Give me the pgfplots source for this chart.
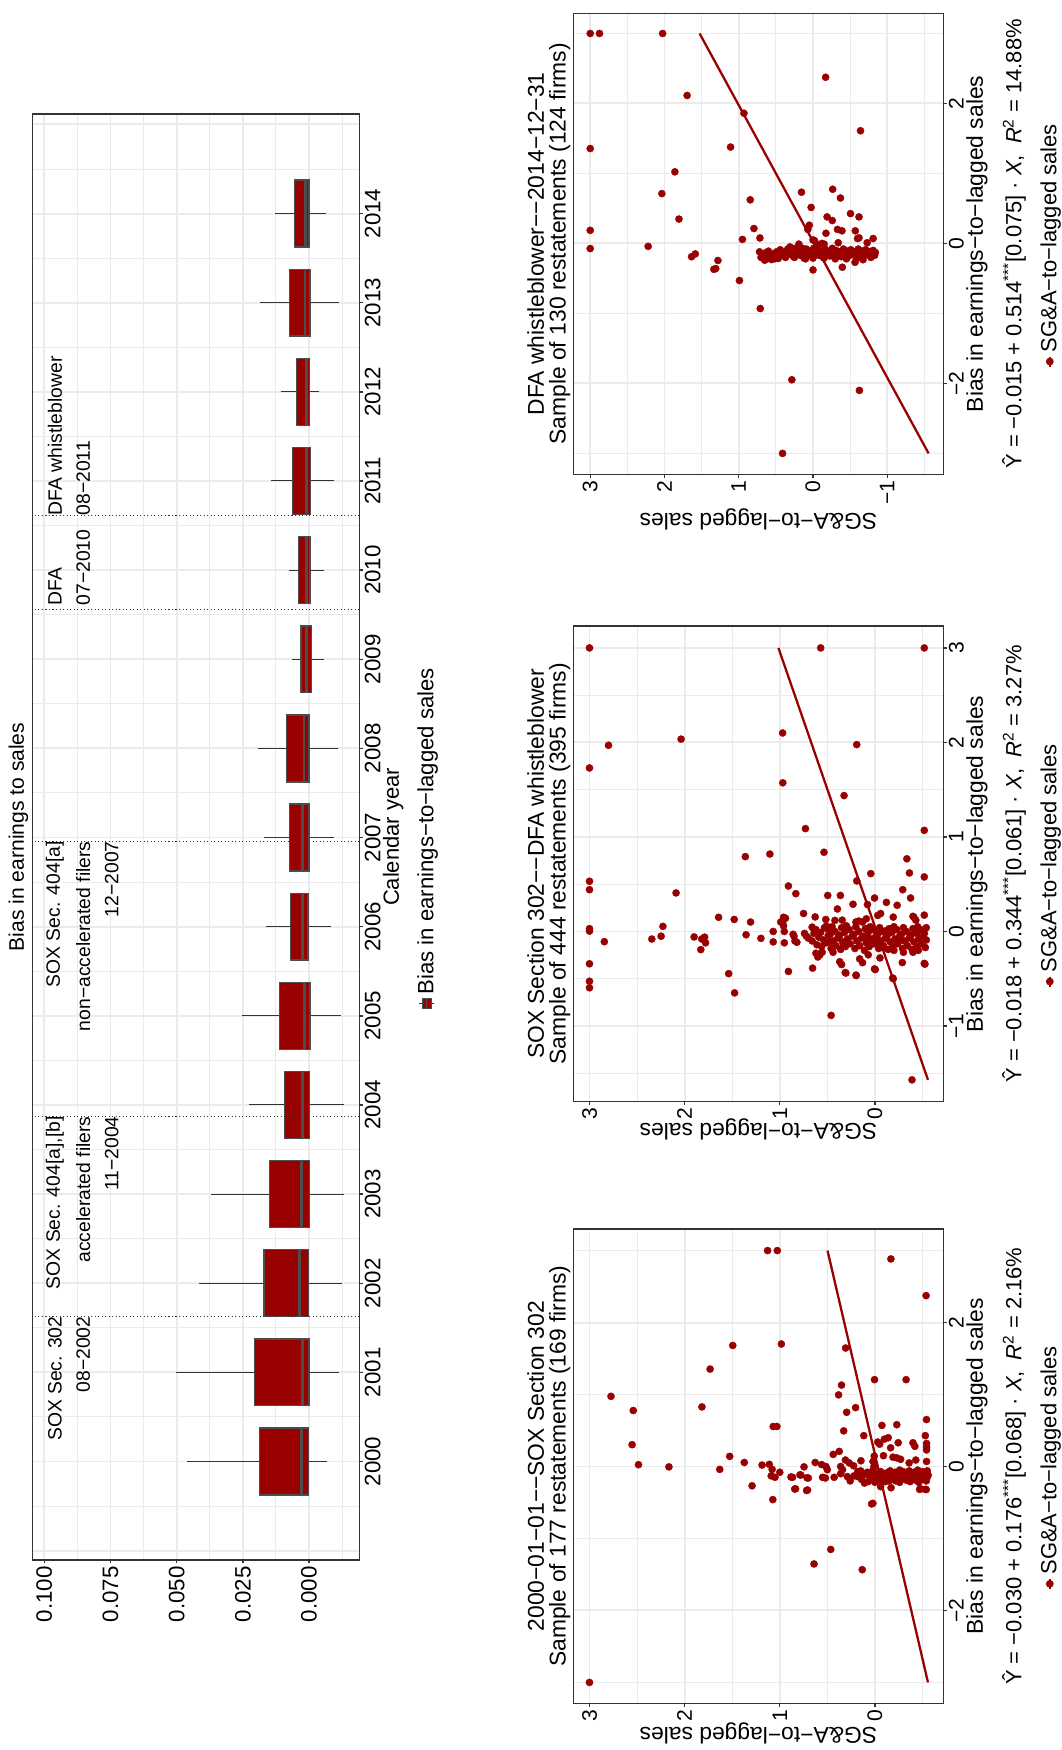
\documentclass[border=0pt]{standalone}
\usepackage{fontspec}
\setmainfont{Liberation Sans}
\usepackage{graphicx}
\usepackage{pgfplots}
\pgfplotsset{compat=1.18}
\definecolor{dred}{HTML}{990000}
\definecolor{bgray}{HTML}{333333}
\definecolor{ggrid}{HTML}{EBEBEB}
\definecolor{boxline}{HTML}{4D4D4D}
\tikzset{
  ttl/.style={font=\fontsize{13}{16}\selectfont},
  axl/.style={font=\fontsize{13}{15}\selectfont},
  eqn/.style={font=\fontsize{12.5}{15}\selectfont},
  ann/.style={font=\fontsize{11}{13}\selectfont, inner sep=0pt},
}
\pgfplotsset{
  ggbase/.style={
    scale only axis, enlargelimits=false, clip mode=individual,
    axis line style={bgray, line width=0.9pt},
    grid=both,
    major grid style={ggrid, line width=1.1pt},
    minor grid style={ggrid, line width=0.55pt},
    tick style={bgray, line width=0.8pt},
    major tick length=0.07cm, minor tick length=0pt,
    tick align=outside,
    xtick pos=bottom, ytick pos=left,
    xticklabel style={inner sep=1pt},
    yticklabel style={inner sep=1.5pt},
  },
  scat/.style={ggbase, height=7.396cm,
    tick label style={font=\fontsize{12}{14}\selectfont, text=black},
    legend style={at={(axis description cs:0.5,-0.288)}, anchor=center, draw=none, fill=none,
      font=\fontsize{12.5}{15}\selectfont, inner sep=0pt},
    legend image code/.code={\draw[dred, line width=0.8pt] (0cm,0cm) -- (0.2cm,0cm); \fill[dred] (0.1cm,0cm) circle (2pt);},
  },
  pts/.style={only marks, mark=*, mark size=2.05pt, mark options={draw=dred, fill=dred, line width=0.2pt}},
  fitl/.style={dred, line width=1.3pt, no markers, forget plot},
  evl/.style={forget plot, bgray, line width=0.6pt, dash pattern=on 0.6pt off 1.4pt},
  bx/.style={forget plot, fill=dred, draw=boxline, line width=0.8pt},
  md/.style={forget plot, boxline, line width=1.6pt},
  wk/.style={forget plot, bgray, line width=0.6pt},
}
\begin{document}
\rotatebox{90}{%
\begin{tikzpicture}
\path[use as bounding box] (0,0) rectangle (35cm,-21.24cm);
% ---------------- Box plot panel (x = calendar year - 2000) ----------------
\begin{axis}[ggbase, at={(3.8cm,-7.186cm)}, anchor=south west, width=28.92cm, height=6.532cm,
  xmin=-1.105, xmax=15.117, ymin=-0.019, ymax=0.10438,
  xtick={0,1,2,3,4,5,6,7,8,9,10,11,12,13,14},
  xticklabels={2000,2001,2002,2003,2004,2005,2006,2007,2008,2009,2010,2011,2012,2013,2014},
  minor xtick={-0.5,0.5,1.5,2.5,3.5,4.5,5.5,6.5,7.5,8.5,9.5,10.5,11.5,12.5,13.5,14.5},
  extra x ticks={-1,15}, extra x tick labels={}, extra x tick style={major tick length=0pt, grid=major},
  ytick={0,0.025,0.05,0.075,0.1}, yticklabels={0.000,0.025,0.050,0.075,0.100},
  minor ytick={-0.0125,0.0125,0.0375,0.0625,0.0875},
  tick label style={font=\fontsize{12.7}{15}\selectfont, text=black},
  legend style={at={(axis description cs:0.5,-0.206)}, anchor=center, draw=none, fill=none,
      font=\fontsize{12.6}{15}\selectfont, inner sep=0pt},
]
\addlegendimage{legend image code/.code={
  \draw[bgray, line width=0.5pt] (0.1cm,-0.15cm) -- (0.1cm,0.15cm);
  \filldraw[fill=dred, draw=boxline, line width=0.6pt] (0cm,-0.09cm) rectangle (0.2cm,0.09cm);
  \draw[boxline, line width=1pt] (0cm,0cm) -- (0.2cm,0cm);}}
\addlegendentry{Bias in earnings−to−lagged sales}
% whiskers: (year, lower whisker) to (year, upper whisker)
\addplot[wk] coordinates {(0,-0.0067) (0,0.0462)};
\addplot[wk] coordinates {(1,-0.0113) (1,0.0503)};
\addplot[wk] coordinates {(2,-0.0123) (2,0.0417)};
\addplot[wk] coordinates {(3,-0.0131) (3,0.0369)};
\addplot[wk] coordinates {(4,-0.0134) (4,0.0226)};
\addplot[wk] coordinates {(5,-0.0119) (5,0.0253)};
\addplot[wk] coordinates {(6,-0.0084) (6,0.0162)};
\addplot[wk] coordinates {(7,-0.0095) (7,0.0170)};
\addplot[wk] coordinates {(8,-0.0108) (8,0.0193)};
\addplot[wk] coordinates {(9,-0.0058) (9,0.0064)};
\addplot[wk] coordinates {(10,-0.0058) (10,0.0077)};
\addplot[wk] coordinates {(11,-0.0095) (11,0.0144)};
\addplot[wk] coordinates {(12,-0.0036) (12,0.0106)};
\addplot[wk] coordinates {(13,-0.0113) (13,0.0185)};
\addplot[wk] coordinates {(14,-0.0065) (14,0.0127)};
% boxes: lower quartile to upper quartile, width 0.75
\addplot[bx] coordinates {(-0.375,0.0001) (0.375,0.0001) (0.375,0.0188) (-0.375,0.0188)} --cycle;
\addplot[bx] coordinates {(0.625,0.0000) (1.375,0.0000) (1.375,0.0206) (0.625,0.0206)} --cycle;
\addplot[bx] coordinates {(1.625,0.0001) (2.375,0.0001) (2.375,0.0170) (1.625,0.0170)} --cycle;
\addplot[bx] coordinates {(2.625,-0.0001) (3.375,-0.0001) (3.375,0.0150) (2.625,0.0150)} --cycle;
\addplot[bx] coordinates {(3.625,-0.0001) (4.375,-0.0001) (4.375,0.0093) (3.625,0.0093)} --cycle;
\addplot[bx] coordinates {(4.625,-0.0003) (5.375,-0.0003) (5.375,0.0111) (4.625,0.0111)} --cycle;
\addplot[bx] coordinates {(5.625,0.0004) (6.375,0.0004) (6.375,0.0070) (5.625,0.0070)} --cycle;
\addplot[bx] coordinates {(6.625,0.0000) (7.375,0.0000) (7.375,0.0074) (6.625,0.0074)} --cycle;
\addplot[bx] coordinates {(7.625,0.0000) (8.375,0.0000) (8.375,0.0085) (7.625,0.0085)} --cycle;
\addplot[bx] coordinates {(8.625,-0.0009) (9.375,-0.0009) (9.375,0.0030) (8.625,0.0030)} --cycle;
\addplot[bx] coordinates {(9.625,-0.0003) (10.375,-0.0003) (10.375,0.0040) (9.625,0.0040)} --cycle;
\addplot[bx] coordinates {(10.625,-0.0006) (11.375,-0.0006) (11.375,0.0062) (10.625,0.0062)} --cycle;
\addplot[bx] coordinates {(11.625,-0.0001) (12.375,-0.0001) (12.375,0.0048) (11.625,0.0048)} --cycle;
\addplot[bx] coordinates {(12.625,-0.0003) (13.375,-0.0003) (13.375,0.0074) (12.625,0.0074)} --cycle;
\addplot[bx] coordinates {(13.625,0.0000) (14.375,0.0000) (14.375,0.0055) (13.625,0.0055)} --cycle;
% medians
\addplot[md] coordinates {(-0.375,0.0028) (0.375,0.0028)};
\addplot[md] coordinates {(0.625,0.0025) (1.375,0.0025)};
\addplot[md] coordinates {(1.625,0.0036) (2.375,0.0036)};
\addplot[md] coordinates {(2.625,0.0028) (3.375,0.0028)};
\addplot[md] coordinates {(3.625,0.0024) (4.375,0.0024)};
\addplot[md] coordinates {(4.625,0.0018) (5.375,0.0018)};
\addplot[md] coordinates {(5.625,0.0024) (6.375,0.0024)};
\addplot[md] coordinates {(6.625,0.0024) (7.375,0.0024)};
\addplot[md] coordinates {(7.625,0.0019) (8.375,0.0019)};
\addplot[md] coordinates {(8.625,0.0011) (9.375,0.0011)};
\addplot[md] coordinates {(9.625,0.0009) (10.375,0.0009)};
\addplot[md] coordinates {(10.625,0.0011) (11.375,0.0011)};
\addplot[md] coordinates {(11.625,0.0011) (12.375,0.0011)};
\addplot[md] coordinates {(12.625,0.0015) (13.375,0.0015)};
\addplot[md] coordinates {(13.625,0.0013) (14.375,0.0013)};
% event lines
\addplot[evl] coordinates {(1.63,-0.019) (1.63,0.10438)};
\addplot[evl] coordinates {(3.875,-0.019) (3.875,0.10438)};
\addplot[evl] coordinates {(6.96,-0.019) (6.96,0.10438)};
\addplot[evl] coordinates {(9.56,-0.019) (9.56,0.10438)};
\addplot[evl] coordinates {(10.61,-0.019) (10.61,0.10438)};
% annotations
\node[ann, anchor=east] at (axis cs:1.63,0.0960) {SOX Sec. 302};
\node[ann, anchor=east] at (axis cs:1.63,0.0853) {08−2002};
\node[ann, anchor=east] at (axis cs:3.875,0.0960) {SOX Sec. 404[a],[b]};
\node[ann, anchor=east] at (axis cs:3.875,0.0853) {accelerated filers};
\node[ann, anchor=east] at (axis cs:3.875,0.0745) {11−2004};
\node[ann, anchor=east] at (axis cs:6.96,0.0960) {SOX Sec. 404[a]};
\node[ann, anchor=east] at (axis cs:6.96,0.0853) {non−accelerated filers};
\node[ann, anchor=east] at (axis cs:6.96,0.0745) {12−2007};
\node[ann, anchor=west] at (axis cs:9.60,0.0960) {DFA};
\node[ann, anchor=west] at (axis cs:9.60,0.0853) {07−2010};
\node[ann, anchor=west] at (axis cs:10.61,0.0960) {DFA whistleblower};
\node[ann, anchor=west] at (axis cs:10.61,0.0853) {08−2011};
\node[font=\fontsize{12}{14}\selectfont] at (axis description cs:0.5,1.044) {Bias in earnings to sales};
\node[font=\fontsize{12.5}{15}\selectfont] at (axis description cs:0.5,-0.104) {Calendar year};
\end{axis}
% ---------------- Scatter 1 ----------------
\begin{axis}[scat, at={(0.934cm,-18.866cm)}, anchor=south west, width=9.486cm,
  xmin=-3.29, xmax=3.30, ymin=-0.719, ymax=3.168,
  xtick={-2,0,2}, xticklabels={−2,0,2}, minor xtick={-3,-1,1,3},
  ytick={0,1,2,3}, yticklabels={0,1,2,3}, minor ytick={-0.5,0.5,1.5,2.5},
]
\addplot[pts] coordinates {
(-3.00,3.00) (0.975,2.774) (0.778,2.54) (0.303,2.552) (0.025,2.485) (-0.005,2.165) (0.828,1.818)
(1.354,1.732) (1.682,1.494) (1.702,0.983) (3.00,1.128) (3.00,1.026) (2.884,-0.168) (2.374,-0.538)
(1.646,0.308) (1.207,0.004) (1.207,-0.328) (1.131,0.351) (0.995,0.382) (0.818,0.203) (0.753,0.297)
(0.652,-0.542) (0.556,1.069) (0.556,1.030) (0.571,-0.074) (0.581,-0.230) (0.495,0.328) (0.429,0.117)
(0.429,-0.530) (0.141,1.526) (0.056,1.373) (-0.040,1.631) (0.020,1.186) (0.030,1.110) (-0.040,1.080)
(-0.130,1.090) (-0.080,1.000) (-0.150,1.050) (-0.268,1.291) (-0.460,1.073) (-0.146,0.882) (-0.313,0.843)
(-0.116,0.788) (-0.005,0.745) (-0.157,0.714) (-0.333,0.718) (0.056,0.628) (-0.520,0.035) (-1.152,0.464)
(-1.354,0.640) (-1.434,0.133) (-0.318,-0.470) (-0.318,-0.530)
(0.32,-0.543) (0.27,-0.543) (0.23,-0.543) (0.34,-0.03) (0.31,-0.05) (0.38,-0.10) (0.40,-0.14)
(0.26,-0.165) (0.33,-0.245) (0.33,-0.40) (0.28,-0.42) (0.21,0.375) (0.168,0.438) (0.145,0.007)
(0.15,-0.09) (0.13,-0.19) (0.12,-0.23) (0.10,-0.27) (0.05,-0.36) (0.09,-0.43) (0.07,-0.543)
(0.027,0.56) (0.00,0.515) (-0.045,0.50) (0.09,0.31) (0.05,0.27) (0.08,0.147) (0.01,0.224)
(0.00,0.36) (-0.045,0.34) (0.07,0.02) (0.00,0.01) (-0.15,0.866) (-0.118,0.778) (-0.16,0.70)
(-0.15,0.55) (-0.16,0.52) (-0.15,0.428) (-0.10,0.36) (-0.14,0.29) (-0.13,0.22) (-0.31,0.834)
(-0.327,0.708) (-0.20,0.26) (-0.23,0.11) (-0.512,0.021) (-0.28,-0.06) (-0.295,-0.17) (-0.31,-0.48)
(-0.32,-0.54)
(-0.06,0.15) (-0.12,0.12) (-0.18,0.14) (-0.08,0.08) (-0.15,0.05) (-0.21,0.07)
(-0.05,0.02) (-0.10,-0.01) (-0.17,-0.02) (-0.22,0.00) (-0.07,-0.06) (-0.13,-0.08)
(-0.19,-0.05) (-0.09,-0.12) (-0.16,-0.13) (-0.21,-0.11) (-0.06,-0.16) (-0.12,-0.18)
(-0.18,-0.17) (-0.08,-0.21) (-0.14,-0.23) (-0.20,-0.22) (-0.05,-0.26) (-0.11,-0.27)
(-0.17,-0.28) (-0.22,-0.26) (-0.08,-0.31) (-0.13,-0.32) (-0.19,-0.33) (-0.06,-0.36)
(-0.10,-0.37) (-0.16,-0.38) (-0.21,-0.37) (-0.08,-0.41) (-0.14,-0.42) (-0.19,-0.43)
(-0.05,-0.45) (-0.11,-0.46) (-0.17,-0.47) (-0.22,-0.46) (-0.07,-0.50) (-0.13,-0.51)
(-0.18,-0.50) (-0.09,-0.54) (-0.15,-0.55) (-0.20,-0.54) (-0.06,-0.55) (-0.12,-0.56)
(-0.17,-0.53) (-0.10,-0.24) (-0.15,-0.35) (-0.12,-0.44) (-0.18,-0.40) (-0.07,-0.29)
(-0.11,0.03) (-0.14,0.18) (-0.07,0.18) (-0.20,-0.15) (-0.16,-0.08) (-0.09,-0.48)
};
\addlegendentry{SG\&A−to−lagged sales}
\addplot[fitl] coordinates {(-3,-0.558) (3,0.498)};
\node[ttl] at (axis description cs:0.5,1.102) {2000−01−01−−SOX Section 302};
\node[ttl] at (axis description cs:0.5,1.037) {Sample of 177 restatements (169 firms)};
\node[axl] at (axis description cs:0.5,-0.0911) {Bias in earnings−to−lagged sales};
\node[eqn] at (axis description cs:0.5,-0.191) {Ŷ = −0.030 + 0.176\textsuperscript{***}[0.068] · \textit{X},\enspace \textit{R}\textsuperscript{2} = 2.16\%};
\node[axl, rotate=90] at (axis description cs:-0.0626,0.5) {SG\&A−to−lagged sales};
\end{axis}
% ---------------- Scatter 2 ----------------
\begin{axis}[scat, at={(12.968cm,-18.866cm)}, anchor=south west, width=9.508cm,
  xmin=-1.80, xmax=3.23, ymin=-0.719, ymax=3.168,
  xtick={-1,0,1,2,3}, xticklabels={−1,0,1,2,3}, minor xtick={-1.5,-0.5,0.5,1.5,2.5},
  ytick={0,1,2,3}, yticklabels={0,1,2,3}, minor ytick={-0.5,0.5,1.5,2.5},
]
\addplot[pts] coordinates {
(3.00,3.00) (3.00,0.57) (3.00,-0.519) (1.73,3.00) (1.97,2.80) (2.035,2.037) (2.10,0.97) (1.977,0.191)
(1.573,0.968) (1.438,0.324) (1.088,0.730) (1.070,-0.519) (0.792,1.362) (0.819,1.104) (0.838,0.535)
(0.769,-0.336) (0.612,0.043) (0.619,-0.363) (0.535,0.191) (0.577,-0.519) (0.531,3.00) (0.442,3.00)
(0.408,2.09) (0.481,0.909) (0.400,0.831) (0.381,0.496) (0.381,0.363) (0.442,-0.293) (0.354,-0.375)
(0.354,0.004) (0.288,0.230) (0.238,0.394) (0.285,0.078) (0.308,-0.121) (0.277,-0.234) (0.150,1.643)
(0.127,1.479) (0.100,1.307) (0.054,2.228) (0.030,3.00) (0.004,3.00) (0.10,0.97) (0.06,0.96) (0.14,0.94)
(0.19,0.75) (0.154,0.628) (0.173,-0.519) (0.16,-0.40) (-0.035,1.354) (-0.073,1.198) (0.00,1.069)
(-0.11,1.069) (0.00,0.952) (-0.12,0.952) (-0.03,0.86) (-0.10,0.84) (-0.08,2.345) (-0.05,2.247)
(-0.058,1.900) (-0.08,1.82) (-0.06,1.79) (-0.12,1.78) (-0.192,1.83) (-0.108,2.844) (-0.342,3.00)
(-0.527,3.00) (-0.596,3.00) (-0.446,1.537) (-0.650,1.475) (-0.423,0.909) (-0.388,0.655) (-0.888,0.460)
(-1.570,-0.390) (-0.435,0.312) (-0.462,0.199) (-0.396,0.004) (-0.492,-0.187) (-0.338,-0.519)
(0.127,0.516) (0.12,0.344) (0.117,0.42) (0.10,0.20) (0.11,0.17) (0.10,0.13) (0.134,0.09) (0.17,-0.03)
(0.19,-0.06) (0.152,-0.193) (0.15,-0.41) (0.12,-0.43) (0.15,0.96) (0.10,0.99) (-0.05,0.85) (-0.115,0.82)
(-0.02,0.74) (-0.05,0.72) (-0.07,0.70) (0.046,0.66) (0.018,0.64) (0.056,0.51) (0.035,0.48)
(-0.23,0.62) (-0.27,0.60) (-0.25,0.58) (-0.22,0.44) (-0.22,0.554) (-0.32,0.37) (-0.35,0.35) (-0.44,0.305)
(-0.466,0.196) (-0.29,0.16) (-0.33,0.13) (-0.247,0.07) (-0.403,-0.004) (-0.28,-0.053) (-0.50,-0.193)
(-0.329,-0.288) (-0.20,-0.20) (-0.22,-0.30) (-0.22,-0.40) (-0.20,-0.456) (-0.346,-0.526)
(-0.10,0.66) (-0.02,0.64) (-0.14,0.61) (-0.06,0.59) (0.02,0.62) (-0.16,0.56) (-0.09,0.54) (-0.01,0.57)
(0.04,0.53) (-0.12,0.51) (-0.04,0.49) (0.03,0.50) (-0.18,0.46) (-0.10,0.44) (-0.03,0.47) (0.05,0.45)
(-0.15,0.41) (-0.07,0.39) (0.00,0.42) (-0.19,0.36) (-0.11,0.34) (-0.04,0.37) (0.04,0.35) (-0.16,0.31)
(-0.08,0.29) (-0.01,0.32) (0.06,0.30) (-0.13,0.26) (-0.05,0.24) (0.02,0.27) (-0.18,0.21) (-0.10,0.19)
(-0.03,0.22) (0.05,0.20) (-0.15,0.16) (-0.07,0.14) (0.00,0.17) (-0.20,0.11) (-0.12,0.09) (-0.05,0.12)
(0.03,0.10) (-0.16,0.06) (-0.08,0.04) (-0.01,0.07) (0.05,0.05) (-0.13,0.01) (-0.05,-0.01) (0.02,0.02)
(-0.18,-0.04) (-0.10,-0.06) (-0.03,-0.03) (0.04,-0.05) (-0.15,-0.09) (-0.07,-0.11) (0.00,-0.08)
(-0.19,-0.14) (-0.11,-0.16) (-0.04,-0.13) (0.03,-0.15) (-0.16,-0.19) (-0.08,-0.21) (-0.01,-0.18)
(0.05,-0.20) (-0.13,-0.24) (-0.05,-0.26) (0.02,-0.23) (-0.18,-0.29) (-0.10,-0.31) (-0.03,-0.28)
(0.04,-0.30) (-0.15,-0.34) (-0.07,-0.36) (0.00,-0.33) (-0.19,-0.39) (-0.11,-0.41) (-0.04,-0.38)
(0.03,-0.40) (-0.16,-0.44) (-0.08,-0.46) (-0.01,-0.43) (0.05,-0.45) (-0.13,-0.49) (-0.05,-0.51)
(0.02,-0.48) (-0.17,-0.53) (-0.09,-0.54) (-0.02,-0.52) (0.04,-0.54) (-0.06,0.08) (-0.12,-0.02)
(-0.09,-0.27) (-0.14,0.33) (-0.02,-0.44) (-0.11,0.48) (0.01,-0.12) (-0.17,-0.09)
};
\addlegendentry{SG\&A−to−lagged sales}
\addplot[fitl] coordinates {(-1.57,-0.558) (3,1.014)};
\node[ttl] at (axis description cs:0.5,1.102) {SOX Section 302−−DFA whistleblower};
\node[ttl] at (axis description cs:0.5,1.037) {Sample of 444 restatements (395 firms)};
\node[axl] at (axis description cs:0.5,-0.0911) {Bias in earnings−to−lagged sales};
\node[eqn] at (axis description cs:0.5,-0.191) {Ŷ = −0.018 + 0.344\textsuperscript{***}[0.061] · \textit{X},\enspace \textit{R}\textsuperscript{2} = 3.27\%};
\node[axl, rotate=90] at (axis description cs:-0.0576,0.5) {SG\&A−to−lagged sales};
\end{axis}
% ---------------- Scatter 3 ----------------
\begin{axis}[scat, at={(25.512cm,-18.866cm)}, anchor=south west, width=9.22cm,
  xmin=-3.30, xmax=3.287, ymin=-1.755, ymax=3.225,
  xtick={-2,0,2}, xticklabels={−2,0,2}, minor xtick={-3,-1,1,3},
  ytick={-1,0,1,2,3}, yticklabels={−1,0,1,2,3}, minor ytick={-1.5,-0.5,0.5,1.5,2.5},
]
\addplot[pts] coordinates {
(3.00,3.00) (3.00,2.875) (3.00,2.025) (2.374,-0.17) (2.114,1.695) (1.86,0.93) (1.61,-0.64) (1.356,3.00)
(1.377,1.11) (1.023,1.86) (0.712,2.035) (0.732,0.155) (0.774,-0.265) (0.649,-0.37) (0.623,0.845)
(0.514,0.025) (0.426,-0.505) (0.379,-0.62) (0.348,1.805) (0.379,-0.19) (0.327,-0.26) (0.187,3.00)
(0.213,0.795) (0.26,0.05) (0.20,0.07) (0.20,-0.33) (0.18,-0.39) (0.18,-0.57) (0.145,-0.175)
(0.057,0.95) (0.078,0.715) (0.07,-0.60) (0.08,-0.62) (0.07,-0.81) (0.05,0.00) (0.04,-0.02)
(0.01,-0.34) (0.01,-0.73) (0.00,-0.12) (-0.01,-0.15) (-0.02,-0.08) (-0.01,0.19) (-0.05,0.31)
(-0.07,0.14) (-0.073,3.00) (-0.042,2.22) (-0.19,1.635) (-0.15,1.585) (-0.244,1.28) (-0.37,1.335)
(-0.36,1.31) (-0.53,0.99) (-0.378,0.00) (-0.34,-0.395) (-0.27,-0.566) (-0.233,-0.674) (-0.215,0.467)
(-0.93,0.71) (-1.948,0.285) (-2.10,-0.625) (-3.00,0.41)
(-0.12,0.72) (-0.20,0.70) (-0.16,0.67) (-0.24,0.65) (-0.13,0.63) (-0.21,0.61) (-0.18,0.58) (-0.11,0.60)
(-0.23,0.56) (-0.15,0.54) (-0.22,0.52) (-0.12,0.49) (-0.19,0.47) (-0.09,0.44) (-0.16,0.42) (-0.13,0.39)
(-0.20,0.37) (-0.08,0.34) (-0.15,0.32) (-0.11,0.29) (-0.18,0.27) (-0.07,0.24) (-0.14,0.22) (-0.20,0.25)
(-0.10,0.19) (-0.17,0.17) (-0.13,0.14) (-0.21,0.12) (-0.08,0.09) (-0.15,0.07) (-0.22,0.10) (-0.11,0.04)
(-0.18,0.02) (-0.07,-0.01) (-0.14,-0.03) (-0.21,0.00) (-0.10,-0.06) (-0.17,-0.08) (-0.12,-0.11)
(-0.19,-0.13) (-0.08,-0.16) (-0.15,-0.18) (-0.21,-0.15) (-0.11,-0.21) (-0.18,-0.23) (-0.07,-0.26)
(-0.14,-0.28) (-0.10,-0.31) (-0.17,-0.33) (-0.22,-0.30) (-0.12,-0.36) (-0.19,-0.38) (-0.08,-0.41)
(-0.15,-0.43) (-0.11,-0.46) (-0.18,-0.48) (-0.22,-0.45) (-0.09,-0.51) (-0.16,-0.53) (-0.12,-0.56)
(-0.19,-0.58) (-0.08,-0.61) (-0.15,-0.63) (-0.21,-0.60) (-0.11,-0.66) (-0.18,-0.68) (-0.09,-0.71)
(-0.16,-0.73) (-0.12,-0.76) (-0.20,-0.78) (-0.10,-0.81) (-0.17,-0.83) (-0.13,-0.84)
};
\addlegendentry{SG\&A−to−lagged sales}
\addplot[fitl] coordinates {(-3,-1.557) (3,1.527)};
\node[ttl] at (axis description cs:0.5,1.102) {DFA whistleblower−−2014−12−31};
\node[ttl] at (axis description cs:0.5,1.037) {Sample of 130 restatements (124 firms)};
\node[axl] at (axis description cs:0.5,-0.0911) {Bias in earnings−to−lagged sales};
\node[eqn] at (axis description cs:0.5,-0.191) {Ŷ = −0.015 + 0.514\textsuperscript{***}[0.075] · \textit{X},\enspace \textit{R}\textsuperscript{2} = 14.88\%};
\node[axl, rotate=90] at (axis description cs:-0.0967,0.5) {SG\&A−to−lagged sales};
\end{axis}
\end{tikzpicture}}
\end{document}
